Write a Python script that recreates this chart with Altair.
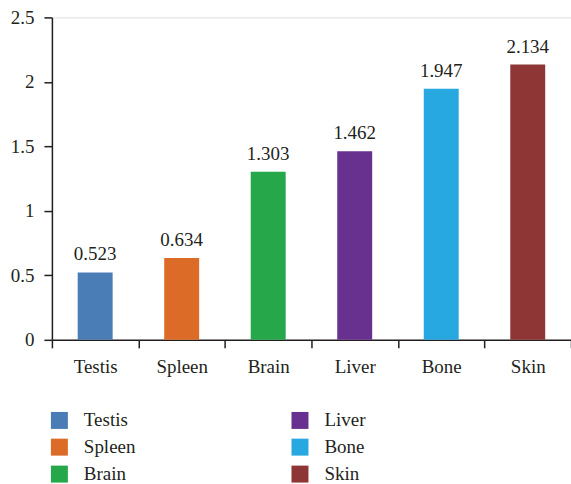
import altair as alt
import pandas as pd

# Tissue categories, measured values and bar colours
organs = ["Testis", "Spleen", "Brain", "Liver", "Bone", "Skin"]
values = [0.523, 0.634, 1.303, 1.462, 1.947, 2.134]
colors = ["#4a7db5", "#dc6b27", "#25a74a", "#68308f", "#27a8e0", "#8e3536"]
y_ticks = [0, 0.5, 1, 1.5, 2, 2.5]

df = pd.DataFrame({"organ": organs, "value": values})

FONT = "Liberation Serif"
INK = "#231f20"

x = alt.X(
    "organ:N",
    sort=organs,
    title=None,
    scale=alt.Scale(paddingInner=0, paddingOuter=0),
    axis=alt.Axis(
        labelAngle=0,
        tickBand="extent",
        tickSize=8,
        labelPadding=10,
        labelFont=FONT,
        labelFontSize=19,
        labelColor=INK,
        domainColor=INK,
        tickColor=INK,
        domainWidth=1.5,
        tickWidth=1.5,
    ),
)
y = alt.Y(
    "value:Q",
    title=None,
    scale=alt.Scale(domain=[0, 2.5], nice=False),
    axis=alt.Axis(
        values=y_ticks,
        format="~g",
        grid=False,
        tickSize=8,
        labelPadding=10,
        labelFont=FONT,
        labelFontSize=19,
        labelColor=INK,
        domainColor=INK,
        tickColor=INK,
        domainWidth=1.5,
        tickWidth=1.5,
    ),
)

bars = alt.Chart(df).mark_bar(size=35).encode(
    x=x,
    y=y,
    color=alt.Color(
        "organ:N",
        scale=alt.Scale(domain=organs, range=colors),
        legend=alt.Legend(
            title=None,
            orient="none",
            legendX=-2,
            legendY=394,
            columns=2,
            direction="vertical",
            symbolType="square",
            symbolSize=289,
            symbolStrokeWidth=0,
            labelFont=FONT,
            labelFontSize=19,
            labelColor=INK,
            labelOffset=15,
            rowPadding=7,
            columnPadding=155,
            padding=0,
        ),
    ),
)

labels = alt.Chart(df).mark_text(
    dy=-8, baseline="bottom", font=FONT, fontSize=19, color=INK
).encode(
    x=alt.X("organ:N", sort=organs),
    y=alt.Y("value:Q"),
    text=alt.Text("value:Q", format=".3f"),
)

chart = (
    (bars + labels)
    .properties(
        width=520,
        height=323,
        padding={"left": 52, "top": 17, "right": 0, "bottom": 144},
        autosize=alt.AutoSizeParams(type="none"),
    )
    .configure_view(stroke=None)
    .configure(background="white")
)

chart.save("out.html", embed_options={"renderer": "svg", "actions": False})
